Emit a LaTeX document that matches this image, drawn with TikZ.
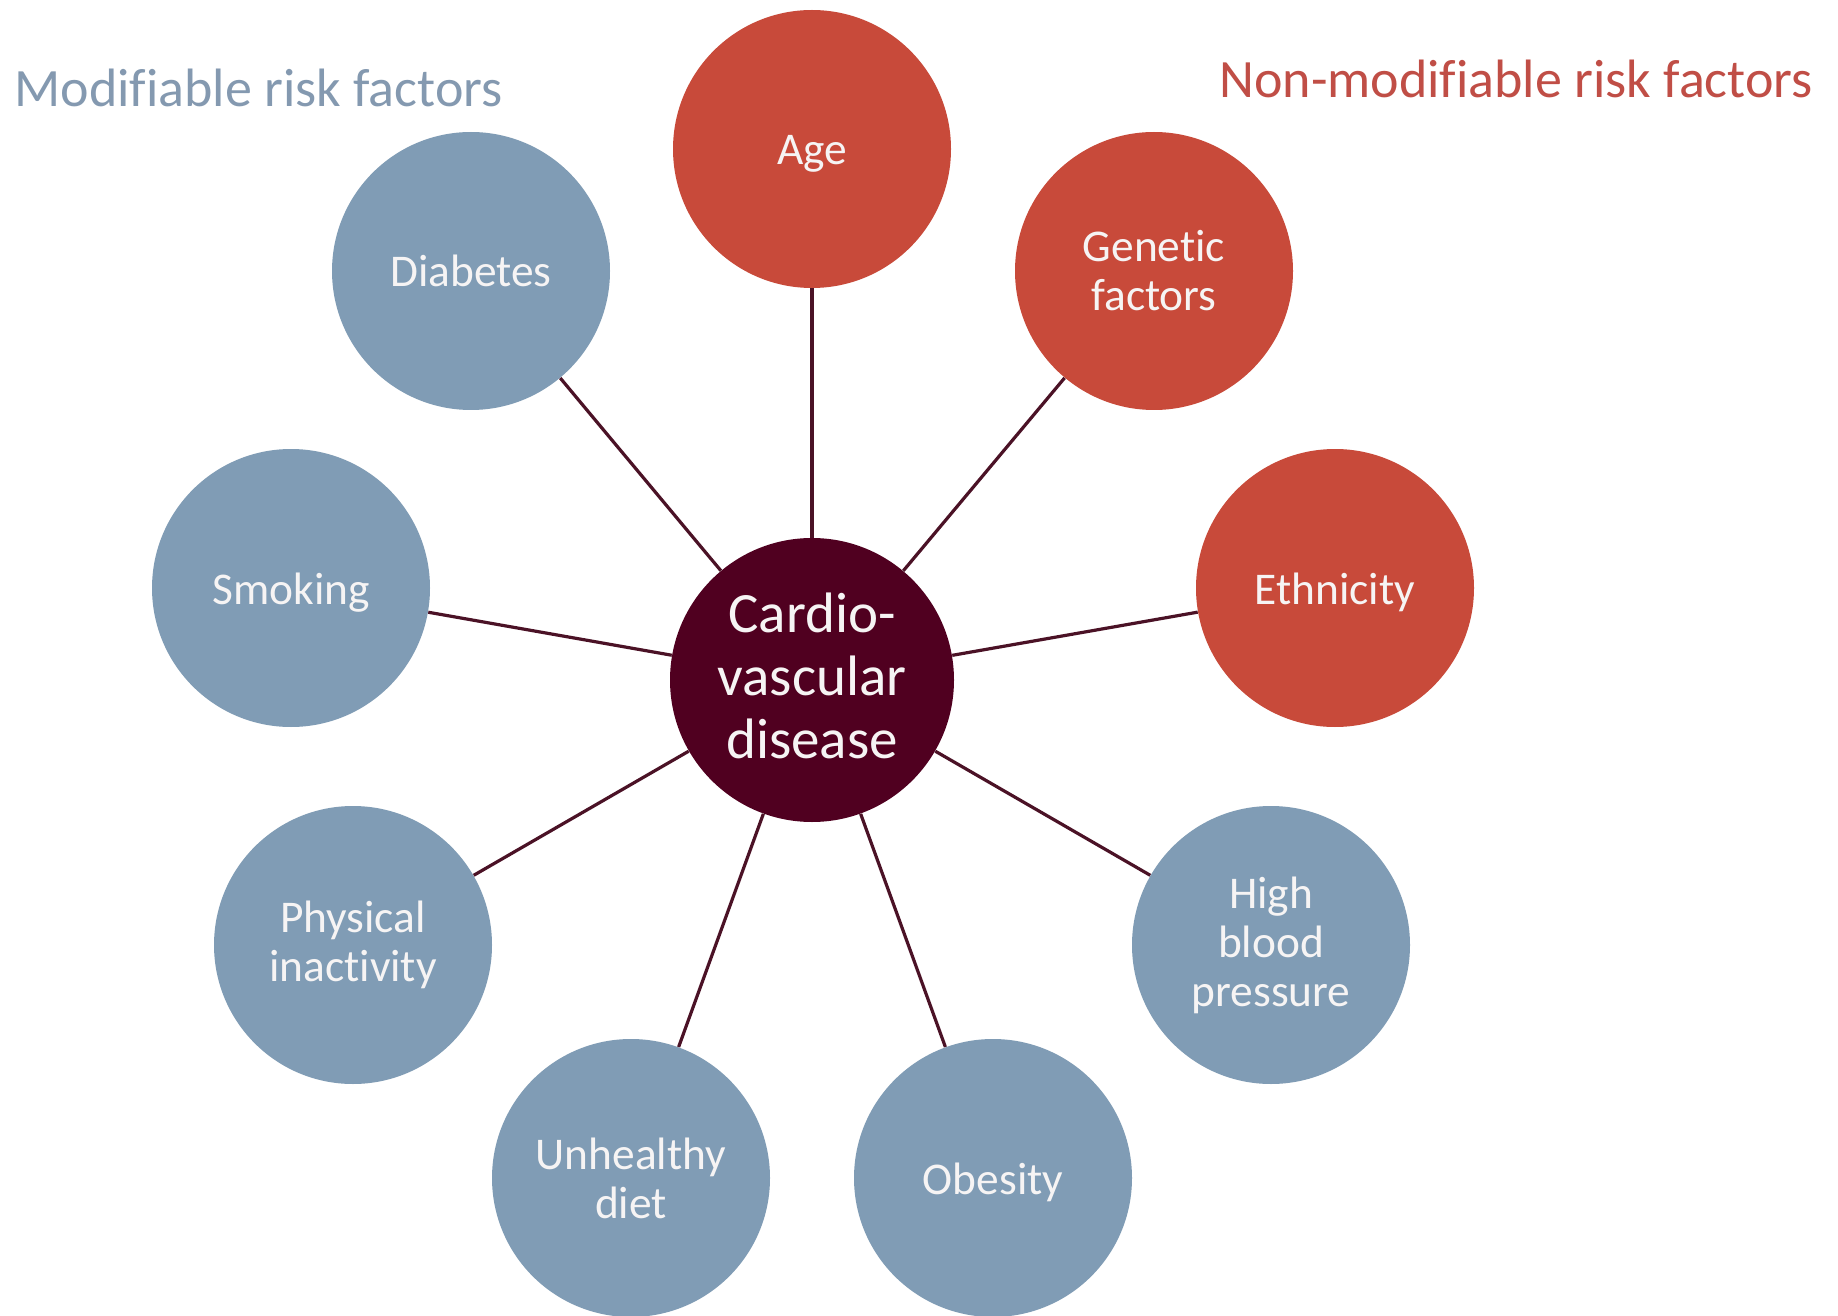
\documentclass[tikz,border=0pt]{standalone}
\usepackage{fontspec}
\setmainfont[Ligatures=NoCommon]{Carlito}
\definecolor{modblue}{RGB}{128,156,181}
\definecolor{nonred}{RGB}{200,74,58}
\definecolor{cvd}{RGB}{80,0,32}
\definecolor{linkcol}{RGB}{75,18,38}
\definecolor{modtext}{RGB}{132,153,176}
\definecolor{nontext}{RGB}{192,78,70}
\definecolor{labtext}{RGB}{246,244,244}
\begin{document}
\begin{tikzpicture}[x=0.5pt,y=-0.5pt,
  factor/.style={circle,minimum size=139pt,inner sep=0pt,align=center,text=labtext,
    font=\fontsize{22.7pt}{24.5pt}\selectfont},
  oneline/.style={text height=20pt,text depth=4pt},
  modf/.style={factor,fill=modblue},
  nonf/.style={factor,fill=nonred},
  hub/.style={circle,minimum size=142pt,inner sep=0pt,fill=cvd},
  hubtext/.style={inner sep=0pt,align=center,text=labtext,
    font=\fontsize{28.5pt}{31.5pt}\selectfont},
  link/.style={draw=linkcol,line width=1.6pt},
  heading/.style={inner sep=0pt,font=\fontsize{27pt}{32pt}\selectfont}]
\useasboundingbox[fill=white] (0,0) rectangle (1838,1316);
\node[hub] (c) at (812,680) {};
\node[hubtext] (ctext) at (812,676) {Cardio-\\vascular\\disease};
\node[nonf,oneline] (age) at (812,149) {Age};
\node[nonf] (gen) at (1154,271) {Genetic\\factors};
\node[nonf,oneline] (eth) at (1335,588) {Ethnicity};
\node[modf] (hbp) at (1271,945) {High\\blood\\pressure};
\node[modf,oneline] (obe) at (993,1178) {Obesity};
\node[modf] (diet) at (631,1178) {Unhealthy\\diet};
\node[modf] (phys) at (353,945) {Physical\\inactivity};
\node[modf,oneline] (smk) at (291,588) {Smoking};
\node[modf,oneline] (dia) at (471,271) {Diabetes};
\foreach \n in {age,gen,eth,hbp,obe,diet,phys,smk,dia}
  \draw[link] (c) -- (\n);
\node[heading,anchor=base west,text=modtext] (modh) at (14,107) {Modifiable risk factors};
\node[heading,anchor=base west,text=nontext] (nonh) at (1219,98) {Non-modifiable risk factors};
\end{tikzpicture}
\end{document}
